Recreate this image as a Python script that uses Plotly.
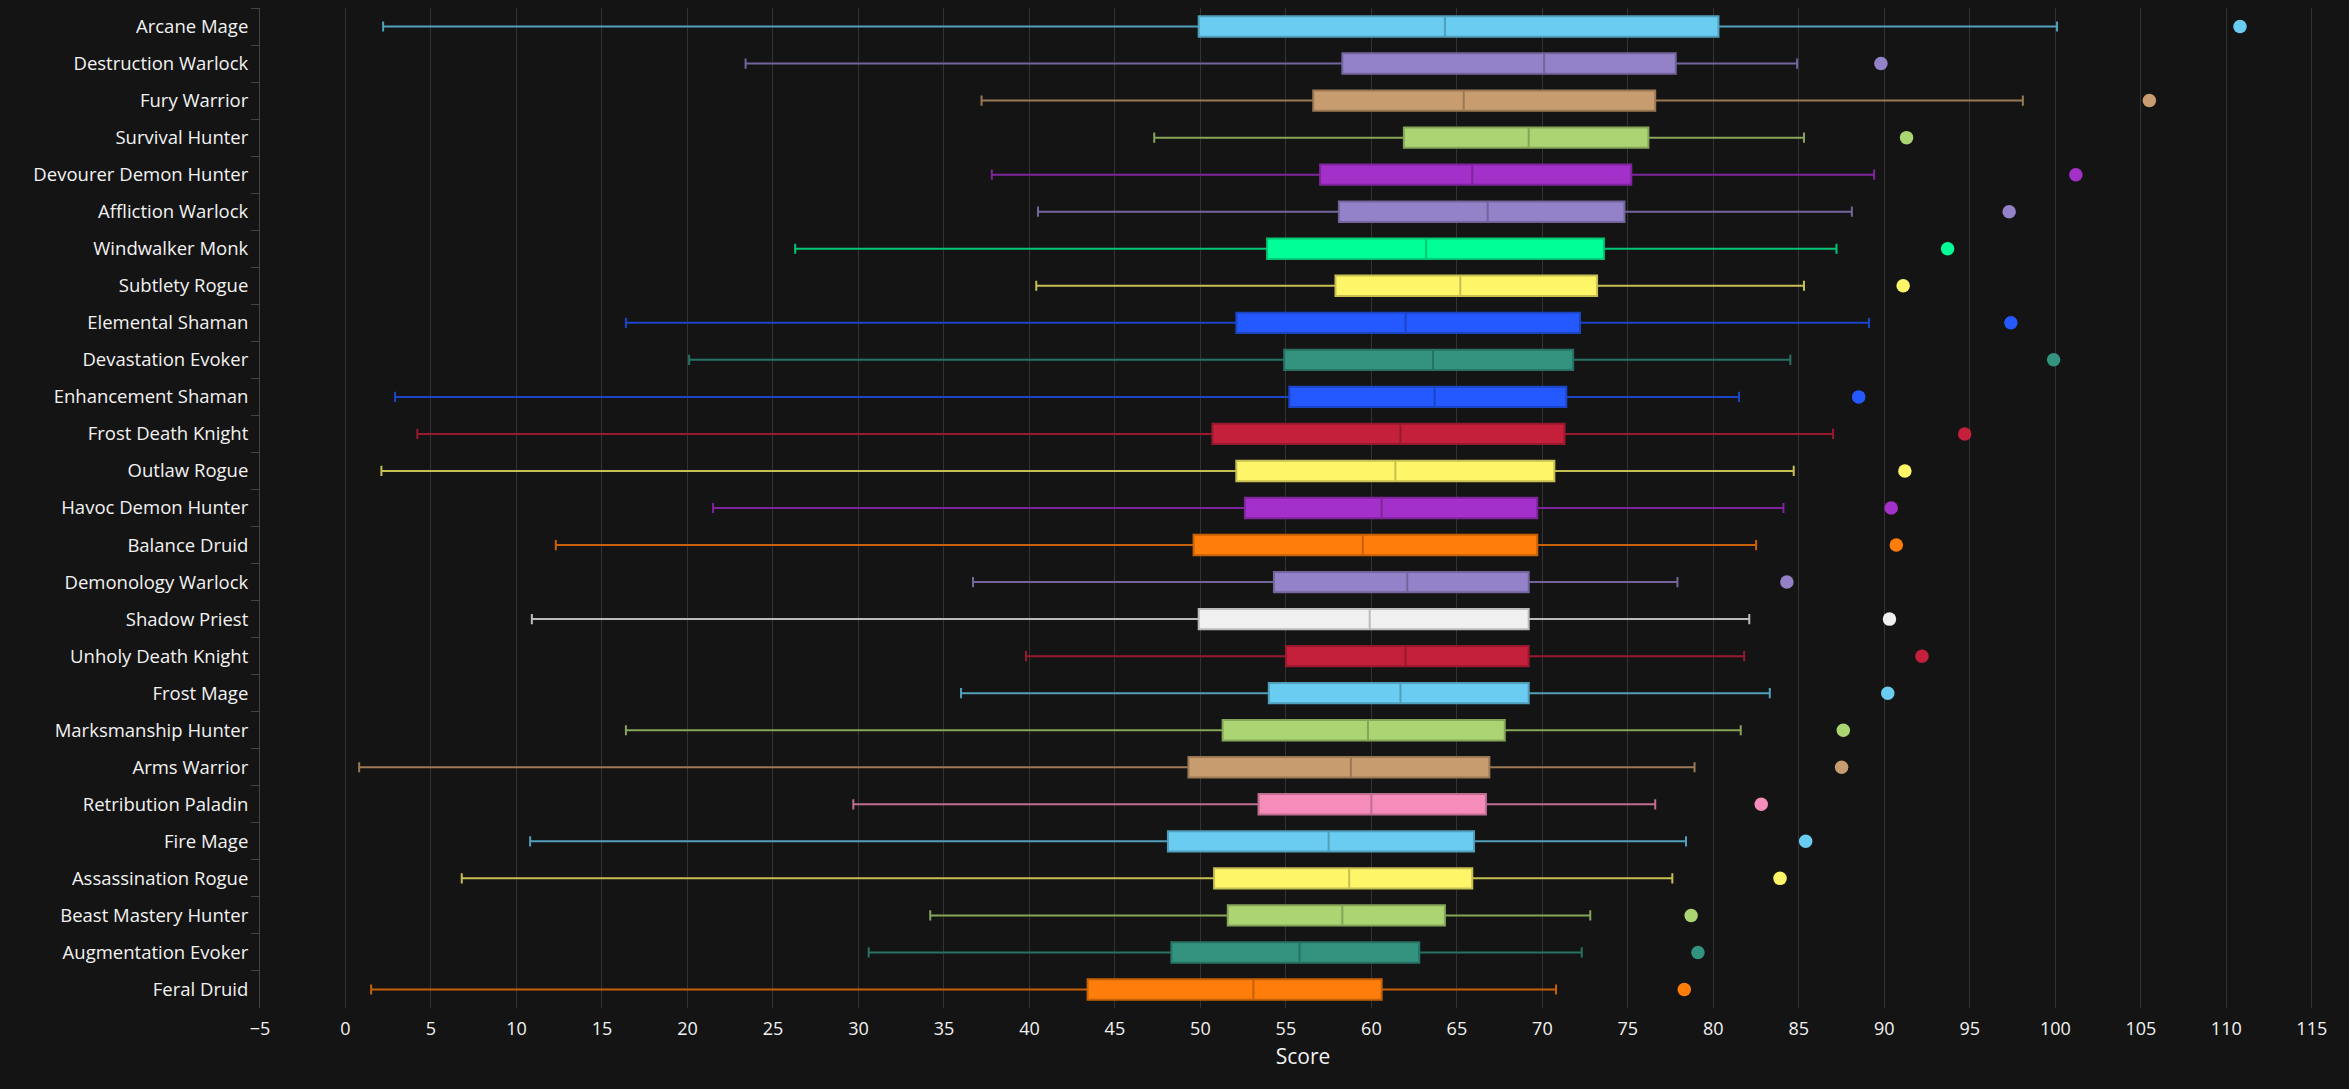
import plotly.graph_objects as go

specs = ["Arcane Mage", "Destruction Warlock", "Fury Warrior", "Survival Hunter",
         "Devourer Demon Hunter", "Affliction Warlock", "Windwalker Monk", "Subtlety Rogue",
         "Elemental Shaman", "Devastation Evoker", "Enhancement Shaman", "Frost Death Knight",
         "Outlaw Rogue", "Havoc Demon Hunter", "Balance Druid", "Demonology Warlock",
         "Shadow Priest", "Unholy Death Knight", "Frost Mage", "Marksmanship Hunter",
         "Arms Warrior", "Retribution Paladin", "Fire Mage", "Assassination Rogue",
         "Beast Mastery Hunter", "Augmentation Evoker", "Feral Druid"]

lower_whisker = [2.2, 23.4, 37.2, 47.3, 37.8, 40.5, 26.3, 40.4, 16.4, 20.1, 2.9, 4.2,
                 2.1, 21.5, 12.3, 36.7, 10.9, 39.8, 36.0, 16.4, 0.8, 29.7, 10.8, 6.8,
                 34.2, 30.6, 1.5]
q1 = [49.9, 58.3, 56.6, 61.9, 57.0, 58.1, 53.9, 57.9, 52.1, 54.9, 55.2, 50.7,
      52.1, 52.6, 49.6, 54.3, 49.9, 55.0, 54.0, 51.3, 49.3, 53.4, 48.1, 50.8,
      51.6, 48.3, 43.4]
median = [64.3, 70.1, 65.4, 69.2, 65.9, 66.8, 63.2, 65.2, 62.0, 63.6, 63.7, 61.7,
          61.4, 60.6, 59.5, 62.1, 59.9, 62.0, 61.7, 59.8, 58.8, 60.0, 57.5, 58.7,
          58.3, 55.8, 53.1]
q3 = [80.3, 77.8, 76.6, 76.2, 75.2, 74.8, 73.6, 73.2, 72.2, 71.8, 71.4, 71.3,
      70.7, 69.7, 69.7, 69.2, 69.2, 69.2, 69.2, 67.8, 66.9, 66.7, 66.0, 65.9,
      64.3, 62.8, 60.6]
upper_whisker = [100.1, 84.9, 98.1, 85.3, 89.4, 88.1, 87.2, 85.3, 89.1, 84.5, 81.5, 87.0,
                 84.7, 84.1, 82.5, 77.9, 82.1, 81.8, 83.3, 81.6, 78.9, 76.6, 78.4, 77.6,
                 72.8, 72.3, 70.8]
outlier = [110.8, 89.8, 105.5, 91.3, 101.2, 97.3, 93.7, 91.1, 97.4, 99.9, 88.5, 94.7,
           91.2, 90.4, 90.7, 84.3, 90.3, 92.2, 90.2, 87.6, 87.5, 82.8, 85.4, 83.9,
           78.7, 79.1, 78.3]

class_colors = {
    "Mage": "#69CCF0", "Warlock": "#9482C9", "Warrior": "#C79C6E", "Hunter": "#ABD473",
    "Demon Hunter": "#A330C9", "Monk": "#00FF96", "Rogue": "#FFF569", "Shaman": "#2459FF",
    "Evoker": "#33937F", "Death Knight": "#C41F3B", "Druid": "#FF7D0A", "Priest": "#F0F0F0",
    "Paladin": "#F58CBA",
}


def spec_color(name):
    for cls in sorted(class_colors, key=len, reverse=True):
        if name.endswith(cls):
            return class_colors[cls]
    return "#FFFFFF"


def darker(hex_color, f=0.78):
    h = hex_color.lstrip("#")
    r, g, b = (int(h[i:i + 2], 16) for i in (0, 2, 4))
    return "rgb(%d,%d,%d)" % (r * f, g * f, b * f)


fig = go.Figure()
for i, name in enumerate(specs):
    c = spec_color(name)
    fig.add_trace(go.Box(
        y=[name], q1=[q1[i]], median=[median[i]], q3=[q3[i]],
        lowerfence=[lower_whisker[i]], upperfence=[upper_whisker[i]],
        orientation="h", name=name, boxpoints=False,
        fillcolor=c, line=dict(color=darker(c), width=2),
        width=0.55, whiskerwidth=0.5, showlegend=False,
    ))

fig.add_trace(go.Scatter(
    x=outlier, y=specs, mode="markers",
    marker=dict(size=13.5, color=[spec_color(s) for s in specs], line=dict(width=0)),
    showlegend=False,
))

font_family = "Open Sans"
fig.update_layout(
    width=2349, height=1089,
    paper_bgcolor="#141414", plot_bgcolor="#141414",
    margin=dict(l=260, r=3, t=8, b=81),
    boxmode="overlay",
    font=dict(family=font_family, color="#F2F2F2", size=18),
    xaxis=dict(
        range=[-5, 117], dtick=5, tick0=0,
        showgrid=True, gridcolor="#333333", gridwidth=1,
        zeroline=False, showline=False,
        ticklabelstandoff=8,
        tickfont=dict(size=18, color="#F2F2F2"),
        title=dict(text="Score", font=dict(size=21, color="#F2F2F2"), standoff=10),
    ),
    yaxis=dict(
        type="category", categoryorder="array", categoryarray=specs,
        range=[26.5, -0.5],
        showgrid=False, zeroline=False,
        showline=True, linecolor="#444444", linewidth=1,
        ticks="outside", tickson="boundaries", ticklen=8, tickcolor="#444444",
        ticklabelstandoff=7,
        tickfont=dict(size=18.5, color="#F2F2F2"),
    ),
)

fig.write_html("out.html")
